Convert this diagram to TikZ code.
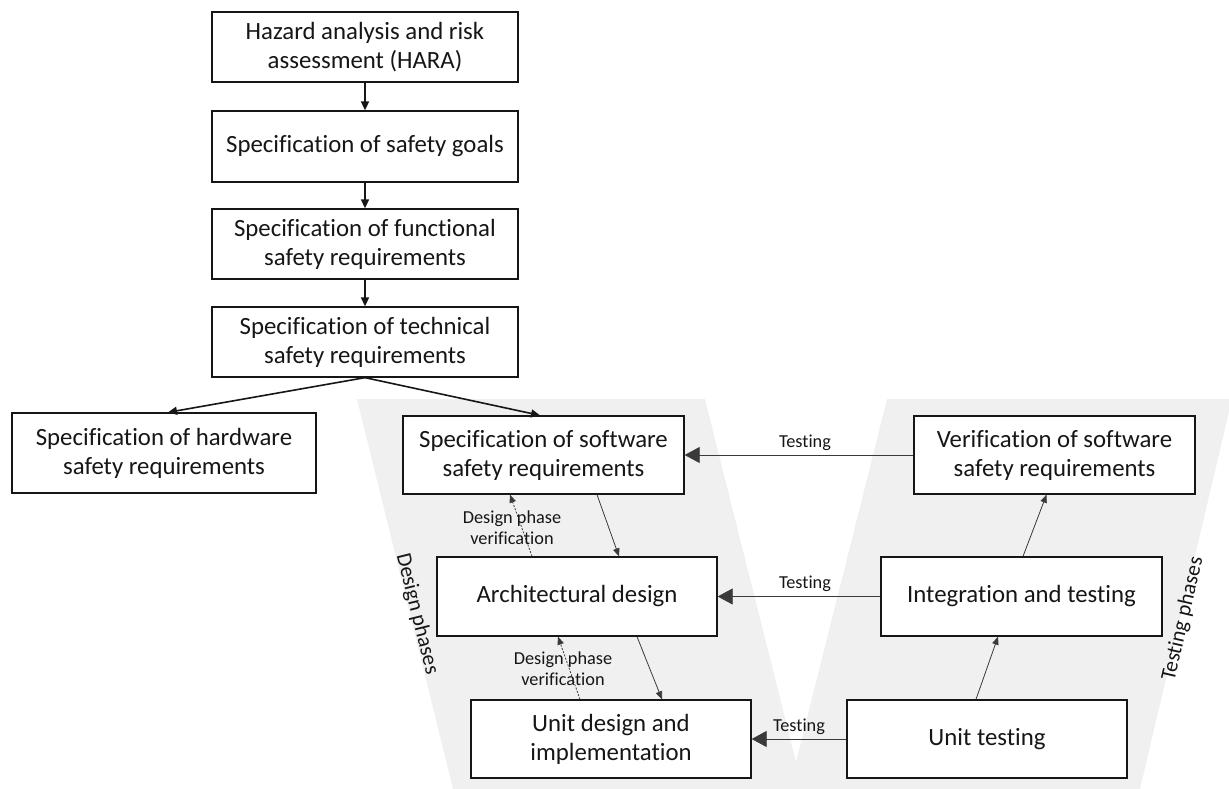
\documentclass[tikz,border=0pt]{standalone}
\usepackage{fontspec}
\setmainfont{Carlito}[Ligatures={NoCommon}]
\usetikzlibrary{arrows.meta,calc}
\definecolor{vgray}{HTML}{F0F0F0}
\definecolor{ink}{HTML}{161616}
\definecolor{lineg}{HTML}{3A3A3A}
\begin{document}
\begin{tikzpicture}[x=1pt,y=-1pt,
  box/.style={draw=ink, line width=1.3pt, fill=white, align=center, inner sep=0pt,
    font=\fontsize{24.8}{29}\selectfont, text=ink},
  thickarrow/.style={draw=ink, line width=1.6pt, -{Triangle[length=9pt,width=8pt]}},
  thinarrow/.style={draw=lineg, line width=0.8pt, -{Triangle[length=8pt,width=6.5pt]}},
  verifarrow/.style={thinarrow, dash pattern=on 2pt off 1.5pt},
  testarrow/.style={draw=lineg, line width=0.8pt, -{Triangle[length=15pt,width=16pt]}},
  smalllabel/.style={font=\fontsize{18.3}{21}\selectfont, text=ink, align=center, inner sep=0pt},
  phaselabel/.style={font=\fontsize{21.5}{25}\selectfont, text=ink, inner sep=0pt}]
\useasboundingbox (0,0) rectangle (1229,789);
\begin{scope}
\clip (0,0) rectangle (1229,789);
\fill[vgray] (357,399) -- (705,399) -- (796,762) -- (887,399) -- (1232,399) -- (1140,789) -- (453,789) -- cycle;
\end{scope}

% left column
\node[box, minimum width=306pt, minimum height=70pt] (hara) at (365,47) {Hazard analysis and risk\\assessment (HARA)};
\node[box, minimum width=306pt, minimum height=71pt] (goals) at (365,146.5) {Specification of safety goals};
\node[box, minimum width=306pt, minimum height=70pt] (func) at (365,244) {Specification of functional\\safety requirements};
\node[box, minimum width=306pt, minimum height=70pt] (tech) at (365,342) {Specification of technical\\safety requirements};
\node[box, minimum width=304pt, minimum height=80pt] (hw) at (164,453) {Specification of hardware\\safety requirements};

% V model
\node[box, minimum width=281pt, minimum height=78pt] (sw) at (543.5,455) {Specification of software\\safety requirements};
\node[box, minimum width=281pt, minimum height=78pt] (ver) at (1054.5,455) {Verification of software\\safety requirements};
\node[box, minimum width=280pt, minimum height=79pt] (arch) at (577,596.5) {Architectural design};
\node[box, minimum width=281pt, minimum height=79pt] (integ) at (1021.5,596.5) {Integration and testing};
\node[box, minimum width=280pt, minimum height=78pt] (unitd) at (611,739) {Unit design and\\implementation};
\node[box, minimum width=280pt, minimum height=78pt] (unitt) at (987,739) {Unit testing};

% top chain
\draw[thickarrow] (hara.south) -- (goals.north);
\draw[thickarrow] (goals.south) -- (func.north);
\draw[thickarrow] (func.south) -- (tech.north);
\draw[thickarrow] (tech.south) -- ($(hw.north)+(4,0)$);
\draw[thickarrow] (tech.south) -- ($(sw.north)+(-3.5,0)$);

% design side
\draw[thinarrow] ($(sw.south)+(53.5,0)$) -- ($(arch.north)+(42,0)$);
\draw[thinarrow] ($(arch.south)+(60,0)$) -- ($(unitd.north)+(51,0)$);
\draw[verifarrow] ($(arch.north)+(-45,0)$) -- ($(sw.south)+(-33.5,0)$);
\draw[verifarrow] ($(unitd.north)+(-31,0)$) -- ($(arch.south)+(-19,0)$);
\node[smalllabel] (dv1) at (512,528) {Design phase\\verification};
\node[smalllabel] (dv2) at (563,669) {Design phase\\verification};

% testing side
\draw[thinarrow] ($(unitt.north)+(-11,0)$) -- ($(integ.south)+(-23.5,0)$);
\draw[thinarrow] ($(integ.north)+(1.5,0)$) -- ($(ver.south)+(-8,0)$);

% testing arrows
\draw[testarrow] (ver.west) -- (sw.east);
\draw[testarrow] (integ.west) -- (arch.east);
\draw[testarrow] (unitt.west) -- (unitd.east);
\node[smalllabel] (t1) at (805,443) {Testing};
\node[smalllabel] (t2) at (805,584) {Testing};
\node[smalllabel] (t3) at (799,727) {Testing};

% phase labels
\node[phaselabel, rotate=-76] (dp) at (417,614) {Design phases};
\node[phaselabel, rotate=77] (tp) at (1183,619) {Testing phases};
\end{tikzpicture}
\end{document}
